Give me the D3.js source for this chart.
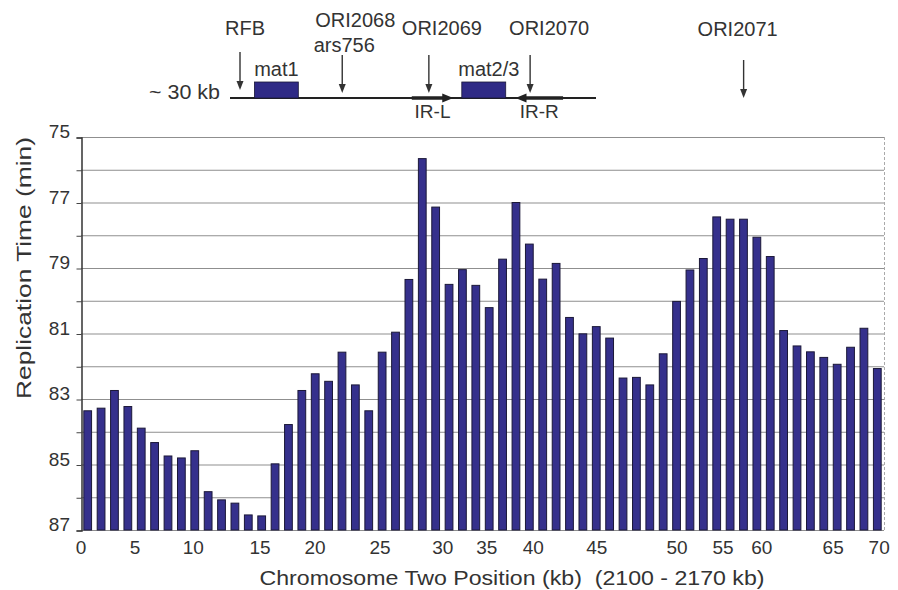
<!DOCTYPE html>
<html>
<head>
<meta charset="utf-8">
<script src="https://cdn.jsdelivr.net/npm/d3@7"></script>
<style>
  html, body { margin: 0; padding: 0; background: #fff; }
  svg { display: block; }
  text { font-family: "Liberation Sans", Arial, sans-serif; fill: #333; white-space: pre; }
</style>
</head>
<body>
<div id="chart"></div>
<script>
// ---- data ----
const replicationTimes = [
  83.36, 83.28, 82.74, 83.23, 83.89, 84.33, 84.74, 84.80, 84.58, 85.83,
  86.08, 86.18, 86.54, 86.57, 84.98, 83.78, 82.74, 82.23, 82.46, 81.57,
  82.57, 83.36, 81.57, 80.96, 79.35, 75.66, 77.14, 79.50, 79.05, 79.53,
  80.21, 78.73, 77.00, 78.27, 79.34, 78.86, 80.51, 81.01, 80.79, 81.14,
  82.36, 82.34, 82.57, 81.62, 80.02, 79.06, 78.71, 77.44, 77.51, 77.51,
  78.06, 78.65, 80.91, 81.38, 81.56, 81.73, 81.94, 81.42, 80.84, 82.07
];
const xTickLabels = ["0","5","10","15","20","25","30","35","40","45","50","55","60","65","70"];
const xTickBarIndex = [-0.5, 3.54, 7.89, 12.88, 16.99, 21.85, 26.53, 29.82, 33.30, 38.04, 44.04, 47.48, 50.37, 55.70, 59.14];
const yTickLabels = [75, 77, 79, 81, 83, 85, 87];
const yGridValues = [75, 76, 77, 78, 79, 80, 81, 82, 83, 84, 85, 86, 87];

// map of the ~30 kb region (kb along the map)
const mapLengthKb = 30;
const mapBoxes = [
  { name: "mat1", start: 2.0, end: 5.6 },
  { name: "mat2/3", start: 19.0, end: 22.6 }
];
const mapOrigins = [
  { name: "RFB", pos: 0.82 },
  { name: "ORI2068", sub: "ars756", pos: 9.2 },
  { name: "ORI2069", pos: 16.3 },
  { name: "ORI2070", pos: 24.6 },
  { name: "ORI2071", pos: 42.1 }
];
const mapRepeats = [
  { name: "IR-L", from: 14.9, to: 18.3 },
  { name: "IR-R", from: 27.3, to: 23.4 }
];

// ---- layout ----
const W = 898, H = 590;
const svg = d3.select("#chart").append("svg").attr("width", W).attr("height", H);

const x = d3.scaleLinear().domain([-0.5, replicationTimes.length - 0.5]).range([81, 884]);
const y = d3.scaleLinear().domain([75, 87]).range([137, 530]);
const step = x(1) - x(0);
const barW = step * 0.58;

// gridlines
svg.append("g").selectAll("line").data(yGridValues).join("line")
  .attr("x1", 81).attr("x2", 884)
  .attr("y1", d => y(d) + 0.5).attr("y2", d => y(d) + 0.5)
  .attr("stroke", "#8f8f8f").attr("stroke-width", 1);

// right border (dashed)
svg.append("line").attr("x1", 884.5).attr("x2", 884.5).attr("y1", y(75)).attr("y2", y(87))
  .attr("stroke", "#aaa").attr("stroke-dasharray", "3,2");

// bars
svg.append("g").selectAll("rect").data(replicationTimes).join("rect")
  .attr("x", (d, i) => x(i) - barW / 2)
  .attr("width", barW)
  .attr("y", d => y(d))
  .attr("height", d => y(87) - y(d))
  .attr("fill", "#35308c")
  .attr("stroke", "#1b1838").attr("stroke-width", 1);

// y axis
const yAxis = d3.axisLeft(y).tickValues(yGridValues).tickSize(5).tickFormat("");
const gy = svg.append("g").attr("transform", "translate(81.5,0.5)").call(yAxis);
gy.select(".domain").attr("stroke", "#333").attr("stroke-width", 1.5);
gy.selectAll(".tick line").attr("stroke", "#444");
svg.append("g").selectAll("text").data(yTickLabels).join("text")
  .attr("x", 70).attr("y", d => y(d) + 1)
  .attr("text-anchor", "end").style("font-size", "19px")
  .text(d => d);

// x tick labels
svg.append("g").selectAll("text").data(xTickLabels).join("text")
  .attr("x", (d, i) => x(xTickBarIndex[i]))
  .attr("y", 554)
  .attr("text-anchor", "middle").style("font-size", "19px")
  .text(d => d);

// axis titles
svg.append("text").attr("x", 512).attr("y", 585).attr("text-anchor", "middle")
  .style("font-size", "20px").attr("textLength", 505).attr("lengthAdjust", "spacingAndGlyphs")
  .text("Chromosome Two Position (kb)  (2100 - 2170 kb)");
svg.append("text").attr("transform", "translate(31,268) rotate(-90)").attr("text-anchor", "middle")
  .style("font-size", "21px").attr("textLength", 262).attr("lengthAdjust", "spacingAndGlyphs")
  .text("Replication Time (min)");

// ---- map diagram ----
const m = d3.scaleLinear().domain([0, mapLengthKb]).range([230, 596]);
const lineY = 98;
const map = svg.append("g");

map.append("text").attr("x", 149).attr("y", 99).style("font-size", "20px")
  .attr("textLength", 71).attr("lengthAdjust", "spacingAndGlyphs").text("~ 30 kb");
map.append("line").attr("x1", m(0)).attr("x2", m(mapLengthKb)).attr("y1", lineY).attr("y2", lineY)
  .attr("stroke", "#222").attr("stroke-width", 2);

map.selectAll("rect.box").data(mapBoxes).join("rect").attr("class", "box")
  .attr("x", d => m(d.start)).attr("width", d => m(d.end) - m(d.start))
  .attr("y", 82).attr("height", 16)
  .attr("fill", "#2f2a86").attr("stroke", "#1b1838").attr("stroke-width", 0.8);

const boxLabelDx = { "mat1": 22, "mat2/3": 27 };
map.selectAll("text.box").data(mapBoxes).join("text").attr("class", "box")
  .attr("x", d => m(d.start) + boxLabelDx[d.name]).attr("y", 76)
  .attr("text-anchor", "middle").style("font-size", "20px")
  .text(d => d.name);

// thick repeat arrows
mapRepeats.forEach(r => {
  const x1 = m(r.from), x2 = m(r.to), dir = Math.sign(x2 - x1);
  map.append("line").attr("x1", x1).attr("x2", x2 - dir * 8).attr("y1", lineY).attr("y2", lineY)
    .attr("stroke", "#222").attr("stroke-width", 3.5);
  map.append("path")
    .attr("d", `M${x2},${lineY} L${x2 - dir * 11},${lineY - 4.5} L${x2 - dir * 11},${lineY + 4.5} Z`)
    .attr("fill", "#222");
  map.append("text").attr("x", (x1 + x2) / 2).attr("y", 118)
    .attr("text-anchor", "middle").style("font-size", "19px").text(r.name);
});

// origin arrows
const arrowY = { "RFB": [52, 90], "ORI2068": [55, 93], "ORI2069": [55, 93], "ORI2070": [55, 93], "ORI2071": [60, 98] };
const labelPos = {
  "RFB": [5, 35], "ORI2068": [13, 27], "ORI2069": [13, 35], "ORI2070": [19, 35], "ORI2071": [-6, 36]
};
mapOrigins.forEach(o => {
  const ax = m(o.pos);
  const [y1, y2] = arrowY[o.name];
  map.append("line").attr("x1", ax).attr("x2", ax).attr("y1", y1).attr("y2", y2 - 6)
    .attr("stroke", "#333").attr("stroke-width", 1.4);
  map.append("path").attr("d", `M${ax},${y2} L${ax - 3.5},${y2 - 9} L${ax + 3.5},${y2 - 9} Z`)
    .attr("fill", "#333");
  const [dx, by] = labelPos[o.name];
  map.append("text").attr("x", ax + dx).attr("y", by).attr("text-anchor", "middle")
    .style("font-size", "20px").text(o.name);
  if (o.sub) {
    map.append("text").attr("x", ax + 2).attr("y", 52).attr("text-anchor", "middle")
      .style("font-size", "20px").text(o.sub);
  }
});
</script>
</body>
</html>
